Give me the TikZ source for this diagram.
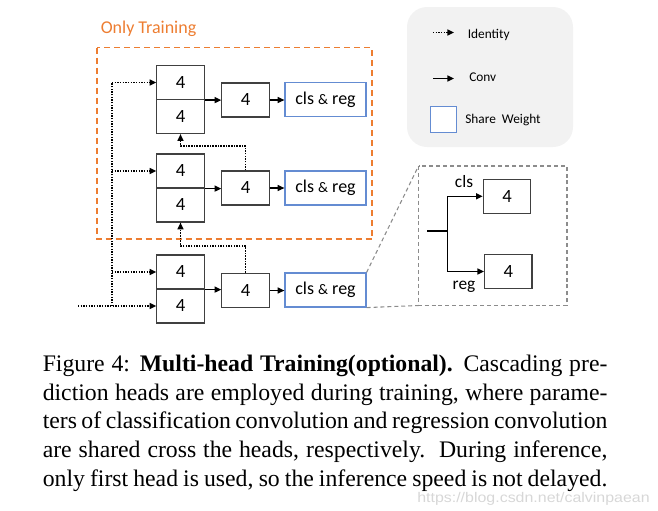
\documentclass[tikz,border=0pt]{standalone}
\usepackage{fontspec}
\usepackage{graphicx}
\setmainfont{Liberation Serif}
\newfontfamily\calib{Carlito}
\newfontfamily\wmfont{Liberation Sans}
\usetikzlibrary{arrows.meta}
\definecolor{boxgray}{RGB}{64,64,64}
\definecolor{shareblue}{RGB}{100,140,210}
\definecolor{trainorange}{RGB}{237,125,49}
\definecolor{legendfill}{RGB}{242,242,242}
\definecolor{zoomgray}{RGB}{140,140,140}
\definecolor{wmgray}{RGB}{215,215,215}
\newcommand{\smallamp}{{\fontsize{11}{13}\selectfont\&}}
\tikzset{
  fourbox/.style={draw=boxgray, line width=0.9pt, minimum width=35.5pt, minimum height=25.5pt, inner sep=0pt, font=\calib\fontsize{14}{16}\selectfont},
  sharebox/.style={draw=shareblue, line width=0.9pt, minimum width=60.75pt, minimum height=25.5pt, inner sep=0pt, font=\calib\fontsize{13.5}{16}\selectfont},
  convarrow/.style={line width=1.1pt, -{Triangle[length=5pt,width=4.5pt]}},
  identarrow/.style={line width=1.1pt, dash pattern=on 1.1pt off 0.9pt, -{Triangle[length=5pt,width=4.5pt]}},
  identline/.style={line width=1.1pt, dash pattern=on 1.1pt off 0.9pt},
  lbl/.style={font=\calib\fontsize{13}{15}\selectfont, inner sep=0pt},
  legtext/.style={font=\calib\fontsize{10}{12}\selectfont, inner sep=0pt, anchor=west},
  capline/.style={anchor=base west, inner sep=0pt, font=\fontsize{17.8}{21.4}\selectfont},
}
\begin{document}
\begin{tikzpicture}[x=0.75pt,y=-0.75pt]
\useasboundingbox (0,0) rectangle (658,511);
% legend
\fill[legendfill, rounded corners=15pt] (407,7) rectangle (573,147);
\coordinate (li0) at (433,32.5); \coordinate (li1) at (454,32.5);
\draw[identarrow] (li0) -- (li1);
\node[legtext] (lit) at (467.5,34.5) {Identity};
\coordinate (lc0) at (433,78.5); \coordinate (lc1) at (454,78.5);
\draw[convarrow] (lc0) -- (lc1);
\node[legtext] (lct) at (469,77.5) {Conv};
\node[draw=shareblue, line width=0.9pt, fill=white, minimum size=19.5pt, inner sep=0pt] (lsq) at (443.7,119.7) {};
\node[legtext] (lst) at (465,120.5) {Share\ \ Weight};
% only training
\draw[trainorange, line width=0.9pt, dash pattern=on 4.5pt off 3pt] (97,47.5) rectangle (372,239);
\node[anchor=west, inner sep=0pt, text=trainorange, font=\calib\fontsize{13.5}{16}\selectfont] (ot) at (100.5,28.5) {Only Training};
% heads
\node[fourbox] (s1a) at (180.5,82.5) {4};
\node[fourbox] (s1b) at (180.5,116.5) {4};
\node[fourbox] (m1) at (245.5,100) {4};
\node[sharebox] (c1) at (325.5,99.5) {cls \smallamp{} reg};
\node[fourbox] (s2a) at (180.5,171) {4};
\node[fourbox] (s2b) at (180.5,205) {4};
\node[fourbox] (m2) at (245.5,188) {4};
\node[sharebox] (c2) at (325.5,188) {cls \smallamp{} reg};
\node[fourbox] (s3a) at (180.5,272) {4};
\node[fourbox] (s3b) at (180.5,306) {4};
\node[fourbox] (m3) at (245.5,290.5) {4};
\node[sharebox] (c3) at (325.5,290) {cls \smallamp{} reg};
% conv arrows
\draw[convarrow] (s1a.south east) -- (m1.west |- s1a.south);
\draw[convarrow] (m1.east) -- (c1.west |- m1.east);
\draw[convarrow] (s2a.south east) -- (m2.west |- s2a.south);
\draw[convarrow] (m2.east) -- (c2.west |- m2.east);
\draw[convarrow] (s3a.south east) -- (m3.west |- s3a.south);
\draw[convarrow] (m3.east) -- (c3.west |- m3.east);
% identity cascade
\draw[identarrow] (m2.north) -- (m2.north |- 0,146) -- (s1b.south |- 0,146) -- (s1b.south);
\draw[identarrow] (m3.north) -- (m3.north |- 0,246) -- (s2b.south |- 0,246) -- (s2b.south);
% input
\coordinate (in) at (78,306);
\coordinate (trunk) at (112,306);
\draw[identarrow] (in) -- (s3b.west);
\draw[identline] (trunk) -- (trunk |- s1a.west);
\draw[identarrow] (trunk |- s1a.west) -- (s1a.west);
\draw[identarrow] (trunk |- s2a.west) -- (s2a.west);
\draw[identarrow] (trunk |- s3a.west) -- (s3a.west);
% zoom box
\draw[zoomgray, line width=0.8pt, dash pattern=on 3pt off 2.2pt] (418.5,166) rectangle (567,305.5);
\coordinate (ztl) at (418.5,166); \coordinate (zbl) at (418.5,305.5);
\draw[zoomgray, line width=0.8pt, dash pattern=on 3pt off 2.2pt] (c3.north east) -- (ztl);
\draw[zoomgray, line width=0.8pt, dash pattern=on 3pt off 2.2pt] (c3.south east) -- (zbl);
\node[fourbox] (zc) at (507,196.3) {4};
\node[fourbox] (zr) at (508.3,271.5) {4};
\coordinate (j0) at (427,231); \coordinate (j) at (447.5,231);
\draw[line width=1.1pt] (j0) -- (j);
\draw[convarrow] (j) |- (zc.west);
\draw[convarrow] (j) |- (zr.west);
\node[lbl] (lcls) at (464,182) {cls};
\node[lbl] (lreg) at (464,287) {reg};
% caption
\node[anchor=base east, inner sep=0pt, text=wmgray, font=\wmfont\fontsize{10.5}{12}\selectfont] (wm) at (650,502.5) {\scalebox{1.14}[1]{https://blog.csdn.net/calvinpaean}};
\node[capline] (cap1) at (42.5,371.5) {\makebox[423.5pt][s]{Figure 4: \textbf{Multi-head Training(optional).} Cascading pre-}};
\node[capline] (cap2) at (42.5,400) {\makebox[423.5pt][s]{diction heads are employed during training, where parame-}};
\node[capline] (cap3) at (42.5,428.5) {\makebox[423.5pt][s]{ters of classification convolution and regression convolution}};
\node[capline] (cap4) at (42.5,457) {\makebox[423.5pt][s]{are shared cross the heads, respectively.\ \ During inference,}};
\node[capline] (cap5) at (42.5,486) {\makebox[423.5pt][s]{only first head is used, so the inference speed is not delayed.}};
\end{tikzpicture}
\end{document}
